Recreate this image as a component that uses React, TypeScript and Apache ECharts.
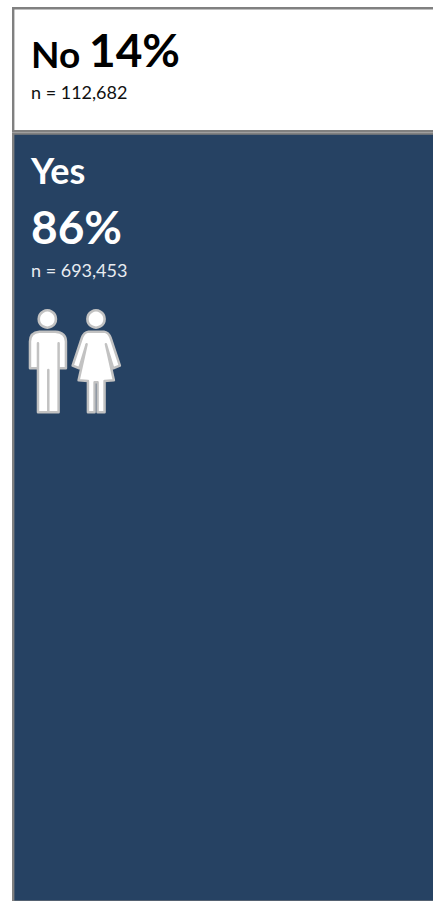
import React, { useEffect, useRef } from "react";
import * as echarts from "echarts";

const categories = ["No", "Yes"];
const percentValues = [14, 86];
const percentLabels = ["14%", "86%"];
const countLabels = ["n = 112,682", "n = 693,453"];
const axisLabels = ["Response"];

const FONT = "Lato, Carlito, 'Open Sans', sans-serif";
const NAVY = "#264263";
const GREY = "#808080";

const MAN =
  "M88,110 L136,110 Q168,112 168,140 L168,220 L146,220 L146,145 L146,352 L115,352 L115,225 L115,352 L84,352 L84,145 L84,220 L60,220 L60,140 Q60,112 88,110 Z";
const WOMAN =
  "M236,110 L282,110 Q296,112 302,128 L330,212 L310,220 L288,148 L312,256 L284,258 L284,352 L263,352 L263,262 L254,262 L254,352 L234,352 L234,258 L206,256 L230,148 L208,220 L188,212 L216,128 Q222,112 236,110 Z";

echarts.graphic.registerShape("personMan", echarts.graphic.extendPath(MAN, {}) as any);
echarts.graphic.registerShape("personWoman", echarts.graphic.extendPath(WOMAN, {}) as any);

export default function App() {
  const ref = useRef<HTMLDivElement>(null);
  useEffect(() => {
    document.body.style.margin = "0";
    const chart = echarts.init(ref.current!, undefined, { renderer: "svg" });
    const personStyle = { fill: "#ffffff", stroke: "#c2c2c2", lineWidth: 7.5, lineJoin: "round" };
    const text = (x: number, y: number, t: string, size: number, weight: string, fill: string) => ({
      type: "text",
      x,
      y,
      z: 10,
      silent: true,
      style: { text: t, font: `${weight} ${size}px ${FONT}`, fill, verticalAlign: "middle" },
    });
    chart.setOption({
      animation: false,
      backgroundColor: "#ffffff",
      grid: { left: 12, top: 7, width: 436, height: 896, containLabel: false, outerBoundsMode: "none" },
      xAxis: { type: "category", data: axisLabels, show: false },
      yAxis: { type: "value", min: 0, max: 100, inverse: true, show: false },
      series: categories.map((name, i) => ({
        name,
        type: "bar",
        stack: "total",
        barWidth: "100%",
        data: [percentValues[i]],
        itemStyle: { color: i === 0 ? "#ffffff" : NAVY, borderColor: GREY, borderWidth: 2.4 },
      })),
      graphic: [
        text(31, 53, categories[0], 37, "bold", "#000000"),
        text(89, 49, percentLabels[0], 46, "bold", "#000000"),
        text(31, 92, countLabels[0], 18, "normal", "#111111"),
        text(31, 170, categories[1], 36, "bold", "#ffffff"),
        text(31, 226, percentLabels[1], 46, "bold", "#ffffff"),
        text(31, 269.5, countLabels[1], 18, "normal", "#e8ecf1"),
        { type: "circle", z: 10, x: 10 + 112 / 3, y: 295 + 72 / 3, shape: { r: 8.6 }, style: { fill: "#ffffff", stroke: "#c2c2c2", lineWidth: 2.6 } },
        { type: "circle", z: 10, x: 10 + 258 / 3, y: 295 + 72 / 3, shape: { r: 8.6 }, style: { fill: "#ffffff", stroke: "#c2c2c2", lineWidth: 2.6 } },
        { type: "personMan", z: 10, x: 10, y: 295, scaleX: 1 / 3, scaleY: 1 / 3, style: personStyle },
        { type: "personWoman", z: 10, x: 10, y: 295, scaleX: 1 / 3, scaleY: 1 / 3, style: personStyle },
      ],
    });
    return () => chart.dispose();
  }, []);
  return <div ref={ref} style={{ width: 433, height: 901 }} />;
}
